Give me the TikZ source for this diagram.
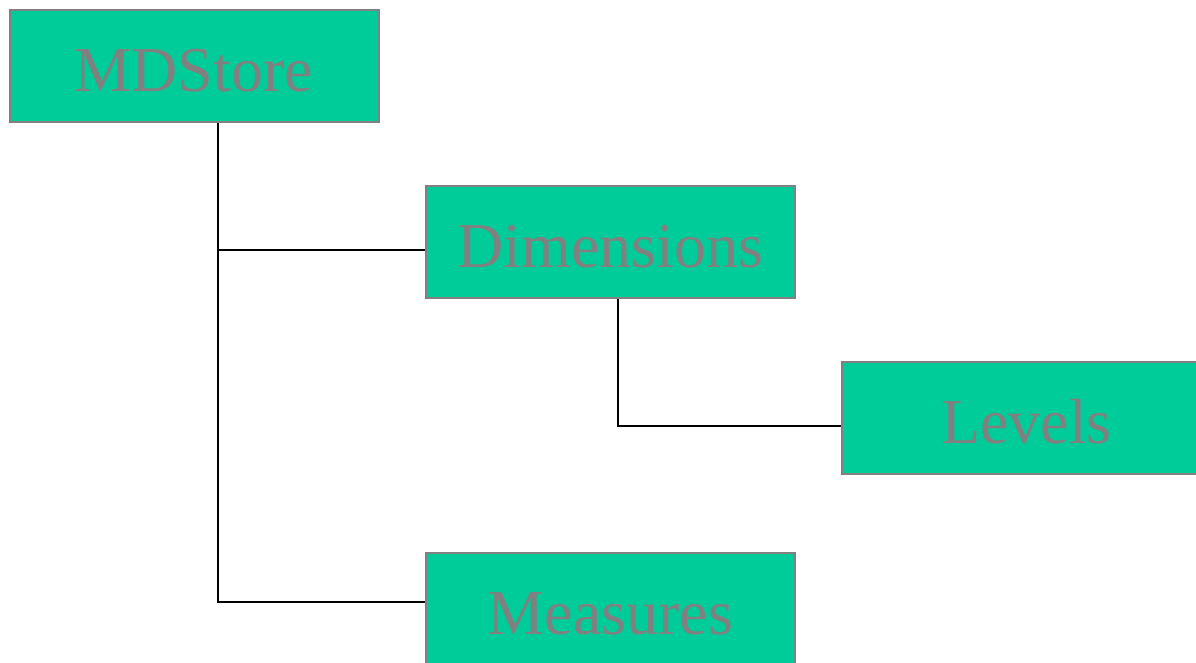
\documentclass[tikz,border=0pt]{standalone}
\usepackage{fontspec}
\setmainfont{Liberation Serif}
\definecolor{boxfill}{HTML}{00CC99}
\definecolor{boxtext}{HTML}{808080}
\begin{document}
\begin{tikzpicture}[x=1pt,y=-1pt,
  entity/.style={draw=boxtext, line width=2pt, fill=boxfill, text=boxtext,
    minimum width=369pt, minimum height=112pt, inner sep=0pt,
    text height=51pt, text depth=0pt,
    font=\fontsize{64}{70}\selectfont},
  link/.style={draw=black, line width=2pt}]
  \clip (0,0) rectangle (1196,663);
  \fill[white] (0,0) rectangle (1196,663);

  \node[entity] (md)  at (194,66.5)  {MDStore};
  \node[entity] (dim) at (610.5,242) {Dimensions};
  \node[entity] (lev) at (1026.5,418) {Levels};
  \node[entity] (mea) at (610.5,609) {Measures};

  % junction points of the tree
  \coordinate (jdim) at (218,250);
  \coordinate (jmea) at (218,602);
  \coordinate (jlev) at (618,426);

  \draw[link] (md.south -| jmea) -- (jmea) -- (jmea -| mea.west);
  \draw[link] (jdim) -- (jdim -| dim.west);
  \draw[link] (dim.south -| jlev) -- (jlev) -- (jlev -| lev.west);
\end{tikzpicture}
\end{document}
